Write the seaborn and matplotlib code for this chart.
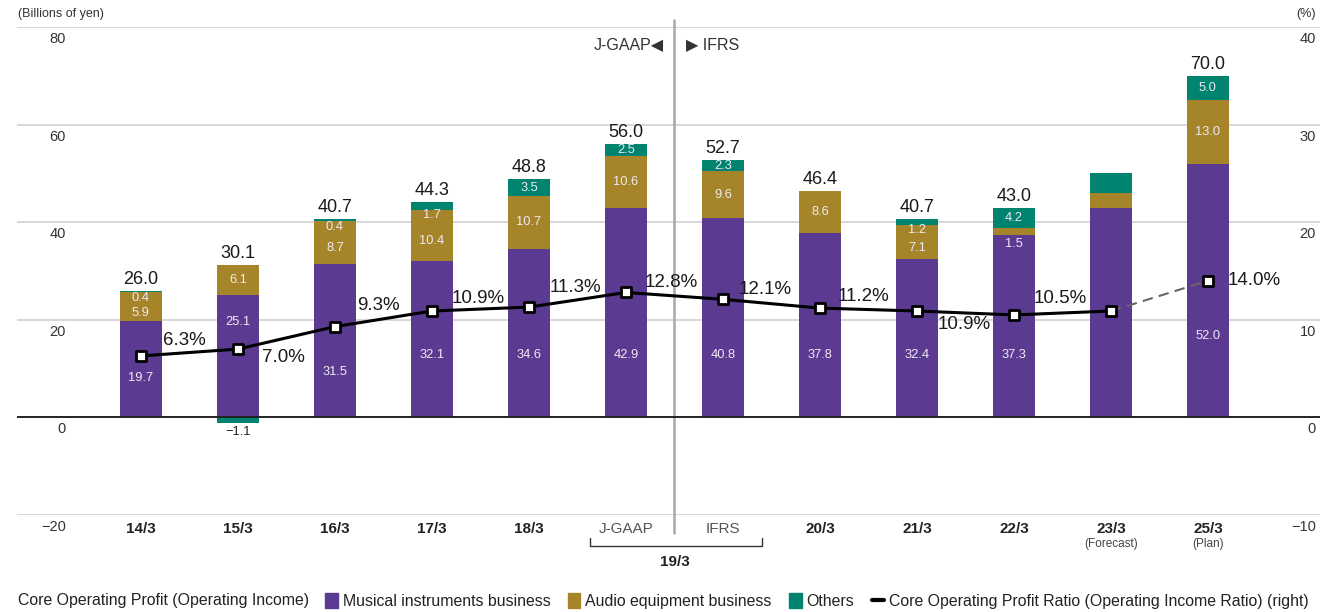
import numpy as np
import pandas as pd
import matplotlib
matplotlib.use("Agg")
import matplotlib.pyplot as plt
import matplotlib.transforms as mtransforms
from matplotlib.patches import Patch
from matplotlib.lines import Line2D
import seaborn as sns

# ---- data ----
periods = ["14/3", "15/3", "16/3", "17/3", "18/3", "J-GAAP", "IFRS",
           "20/3", "21/3", "22/3", "23/3", "25/3"]
musical = [19.7, 25.1, 31.5, 32.1, 34.6, 42.9, 40.8, 37.8, 32.4, 37.3, 43.0, 52.0]
audio = [5.9, 6.1, 8.7, 10.4, 10.7, 10.6, 9.6, 8.6, 7.1, 1.5, 3.0, 13.0]
others = [0.4, -1.1, 0.4, 1.7, 3.5, 2.5, 2.3, 0.0, 1.2, 4.2, 4.0, 5.0]
totals = ["26.0", "30.1", "40.7", "44.3", "48.8", "56.0", "52.7",
          "46.4", "40.7", "43.0", "", "70.0"]
ratio = [6.3, 7.0, 9.3, 10.9, 11.3, 12.8, 12.1, 11.2, 10.9, 10.5, 10.9, 14.0]
unlabeled = {"23/3"}
sub_labels = {"23/3": "(Forecast)", "25/3": "(Plan)"}

# ---- layout / style ----
C_MUS = "#5b3a91"
C_AUD = "#a6852a"
C_OTH = "#00836f"
C_IN = "#eeeaf3"
FONT = ["Liberation Sans", "DejaVu Sans"]
BAR_W = 0.43

# musical label heights (data units), default 12.7, moved off the line
mus_label_y = [8.0, 19.5, 9.4, 12.7, 12.7, 12.7, 12.7, 12.7, 12.7, 12.7, 12.7, 16.6]
# ratio label offsets in pixels from the marker
pct_offsets = [(22, 15), (24, -8), (22, 21), (20, 13), (21, 20), (19, 10),
               (16, 10), (18, 12), (21, -13), (20, 16), None, (20, 0)]

sns.set_style("white")
plt.rcParams["font.family"] = FONT

df = pd.DataFrame({"period": periods, "musical": musical,
                   "audio": audio, "others": others})
df["aud_base"] = df["musical"]
df["oth_base"] = np.where(df["others"] >= 0, df["musical"] + df["audio"], 0.0)

fig = plt.figure(figsize=(13.2, 6.12), dpi=100)
ax = fig.add_axes([17 / 1320, 97 / 612, 1303 / 1320, 488 / 612])

sns.barplot(data=df, x="period", y="musical", color=C_MUS, width=BAR_W,
            saturation=1, errorbar=None, linewidth=0, ax=ax)
sns.barplot(data=df, x="period", y="audio", bottom=df["aud_base"].values,
            color=C_AUD, width=BAR_W, saturation=1, errorbar=None,
            linewidth=0, ax=ax)
sns.barplot(data=df, x="period", y="others", bottom=df["oth_base"].values,
            color=C_OTH, width=BAR_W, saturation=1, errorbar=None,
            linewidth=0, ax=ax)

ax.set_xlim(-1.278, 12.155)
ax.set_ylim(-20, 80)
for s in ax.spines.values():
    s.set_visible(False)
ax.set_xlabel("")
ax.set_ylabel("")
ax.set_yticks([])
ax.tick_params(axis="x", length=0, pad=5)

for g in [-20, 20, 40, 60, 80]:
    ax.axhline(g, color="#d4d4d4", lw=1.3, zorder=0)
ax.axhline(0, color="#222222", lw=1.4, zorder=3)

# left tick labels (drawn just under the gridlines)
ytr = mtransforms.blended_transform_factory(ax.transAxes, ax.transData)
for v in [-20, 0, 20, 40, 60, 80]:
    lab = str(v).replace("-", "\u2212")
    ax.annotate(lab, (0.0376, v), xycoords=ytr, xytext=(0, -5),
                textcoords="offset pixels", ha="right", va="top",
                fontsize=10.5, color="#333333")

# x tick labels
ax.set_xticks(range(len(periods)))
ax.set_xticklabels(periods, fontsize=11)
for t, p in zip(ax.get_xticklabels(), periods):
    if p in ("J-GAAP", "IFRS"):
        t.set_color("#555555")
    else:
        t.set_color("#222222")
        t.set_fontweight("bold")

xtr = mtransforms.blended_transform_factory(ax.transData, ax.transAxes)
for i, p in enumerate(periods):
    if p in sub_labels:
        ax.text(i, -0.06, sub_labels[p], transform=xtr, ha="center",
                va="center", fontsize=8.5, color="#444444")

# 19/3 bracket
ax.plot([4.63, 4.63, 6.40, 6.40], [-0.047, -0.0635, -0.0635, -0.047],
        transform=xtr, color="#333333", lw=1, clip_on=False)
ax.text(5.5, -0.097, "19/3", transform=xtr, ha="center", va="center",
        fontsize=11, fontweight="bold", color="#222222")

# J-GAAP / IFRS separator
ax.plot([5.5, 5.5], [1.015, -0.036], transform=xtr, color="#a8a8a8",
        lw=1.8, clip_on=False, zorder=1)
ax.text(5.39, 0.965, "J-GAAP\u25C0", transform=xtr, ha="right", va="center",
        fontsize=11.5, color="#333333")
ax.text(5.62, 0.965, "\u25B6 IFRS", transform=xtr, ha="left", va="center",
        fontsize=11.5, color="#333333")

# value labels in / on the bars
for i, p in enumerate(periods):
    m, a, o = musical[i], audio[i], others[i]
    top = m + a + max(o, 0)
    if totals[i]:
        ax.annotate(totals[i], (i, top), xytext=(0, 3), textcoords="offset pixels",
                    ha="center", va="bottom", fontsize=13, color="#1a1a1a")
    if p in unlabeled:
        continue
    kw = dict(ha="center", va="center", fontsize=9.3, color=C_IN)
    ax.text(i, mus_label_y[i], f"{m:.1f}", **kw)
    # audio / others labels
    if o < 0:
        ax.text(i, (m + a / 2), f"{a:.1f}", **kw)
        ax.text(i, -3.0, f"\u2212{abs(o):.1f}", ha="center", va="center",
                fontsize=9.3, color="#222222")
    elif o == 0:
        ax.text(i, m + a / 2, f"{a:.1f}", **kw)
    elif a < 2:
        ax.text(i, m - 1.8, f"{a:.1f}", **kw)
        ax.text(i, m + a + o / 2, f"{o:.1f}", **kw)
    elif o < 2:
        ax.text(i, m + a - 1.1, f"{o:.1f}", **kw)
        ax.text(i, m + a / 2 - 1.2, f"{a:.1f}", **kw)
    else:
        ax.text(i, m + a / 2, f"{a:.1f}", **kw)
        ax.text(i, m + a + o / 2, f"{o:.1f}", **kw)

# ---- ratio line on the right axis ----
ax2 = ax.twinx()
ax2.set_ylim(-10, 40)
for s in ax2.spines.values():
    s.set_visible(False)
ax2.set_yticks([])
ax2.set_ylabel("")

xpos = np.arange(len(periods))
sns.lineplot(x=xpos[10:], y=ratio[10:], ax=ax2, color="#666666", lw=1.5,
             linestyle=(0, (5, 3)), zorder=4)
sns.lineplot(x=xpos[:11], y=ratio[:11], ax=ax2, color="black", lw=2.2, zorder=5)
sns.scatterplot(x=xpos, y=ratio, ax=ax2, marker="s", s=55, color="white",
                edgecolor="black", linewidth=2, zorder=6)

for i, r in enumerate(ratio):
    off = pct_offsets[i]
    if off is None:
        continue
    ax2.annotate(f"{r:.1f}%", (i, r), xytext=off, textcoords="offset pixels",
                 ha="left", va="center", fontsize=13.5, color="#1a1a1a")

ytr2 = mtransforms.blended_transform_factory(ax2.transAxes, ax2.transData)
for v in [-10, 0, 10, 20, 30, 40]:
    lab = str(v).replace("-", "\u2212")
    ax2.annotate(lab, (0.997, v), xycoords=ytr2, xytext=(0, -5),
                 textcoords="offset pixels", ha="right", va="top",
                 fontsize=10.5, color="#333333")

ax2.set_xlim(-1.278, 12.155)

# ---- header units and legend ----
fig.text(18 / 1320, 1 - 14 / 612, "(Billions of yen)", ha="left", va="center",
         fontsize=9, color="#333333")
fig.text(1316 / 1320, 1 - 14 / 612, "(%)", ha="right", va="center",
         fontsize=9, color="#333333")
lead = fig.text(18 / 1320, 1 - 601 / 612, "Core Operating Profit (Operating Income)",
                ha="left", va="center", fontsize=11.4, color="#222222")

fig.canvas.draw()
lead_right = lead.get_window_extent().x1

handles = [Patch(color=C_MUS), Patch(color=C_AUD), Patch(color=C_OTH),
           Line2D([], [], color="black", lw=3)]
labels = ["Musical instruments business", "Audio equipment business", "Others",
          "Core Operating Profit Ratio (Operating Income Ratio) (right)"]
fig.legend(handles, labels, loc="center left",
           bbox_to_anchor=((lead_right + 16) / 1320, 1 - 601 / 612), ncol=4,
           frameon=False, fontsize=11.4, handlelength=0.8, handleheight=1.1,
           handletextpad=0.3, columnspacing=1.1, borderaxespad=0, borderpad=0,
           labelcolor="#222222")

fig.savefig("out.png", dpi=100)
